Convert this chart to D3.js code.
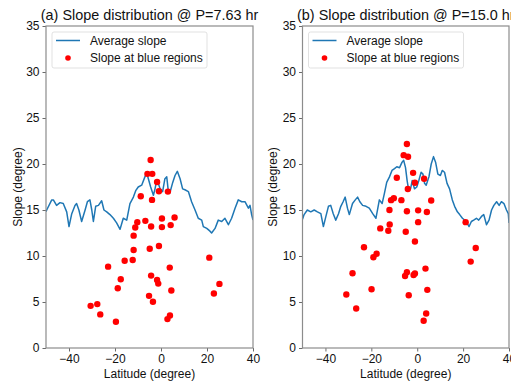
<!DOCTYPE html>
<html><head><meta charset="utf-8">
<script src="https://cdn.jsdelivr.net/npm/d3@7"></script>
<style>
html,body{margin:0;padding:0;background:#fff;}
svg{display:block;font-family:"Liberation Sans",Arial,sans-serif;}
</style></head>
<body>
<svg id="chart" width="511" height="381"></svg>
<script>
// ---- data ----
const titles = ["(a) Slope distribution @ P=7.63 hr", "(b) Slope distribution @ P=15.0 hr"];
const xTicks = [-40, -20, 0, 20, 40];
const yTicks = [0, 5, 10, 15, 20, 25, 30, 35];
const legendLabels = ["Average slope", "Slope at blue regions"];

const avgLatA = [-50,-49.7,-47.5,-46.8,-45.4,-43.9,-42.5,-41.0,-40.0,-38.8,-37.4,-36.7,-35.7,-34.5,-33.0,-32.0,-30.9,-30.1,-29.4,-28.4,-27.2,-25.8,-24.8,-23.6,-22.2,-20.7,-19.3,-17.8,-16.4,-14.9,-13.5,-12.0,-11.0,-9.9,-8.4,-7.0,-6.2,-5.5,-4.5,-3.3,-2.6,-1.9,-1.2,-0.4,0.7,1.7,2.5,3.2,3.9,5.1,6.1,7.1,8.3,9.4,10.4,11.9,13.3,14.8,16.2,17.7,18.4,19.9,21.3,22.0,23.5,24.9,26.4,27.8,29.3,30.7,32.2,33.6,35.1,36.5,38.0,38.7,39.4,40.0];
const avgSlopeA = [14.8,15.0,16.1,16.1,15.5,15.8,15.7,14.8,13.2,14.6,15.5,15.7,15.0,13.75,15.0,15.9,16.1,15.0,13.75,15.4,15.5,16.0,15.0,14.8,14.5,14.1,13.6,12.9,14.1,13.9,15.7,16.4,17.1,17.5,17.7,18.6,19.0,18.4,17.5,16.6,17.3,18.2,17.9,17.3,17.0,18.4,18.6,17.0,16.9,18.0,18.75,19.2,18.4,17.3,17.2,17.0,15.9,15.0,14.1,13.9,13.2,13.0,12.7,12.5,13.0,13.9,13.75,14.1,13.4,14.1,15.2,16.1,15.9,15.9,15.2,15.5,14.5,13.9];

const avgLatB = [-50,-49.3,-47.9,-46.4,-44.9,-43.5,-42.0,-40.9,-39.8,-38.7,-37.7,-36.6,-35.5,-34.3,-33.3,-32.3,-31.4,-30.4,-29.6,-28.2,-27.0,-26.0,-25.0,-23.8,-22.3,-20.9,-19.4,-18.0,-16.5,-15.3,-14.3,-13.3,-12.1,-11.0,-9.9,-8.9,-7.7,-6.6,-5.9,-5.1,-4.4,-3.7,-2.9,-2.2,-1.2,-0.2,0.7,1.7,2.5,3.2,3.9,5.1,6.1,7.1,8.0,9.0,10.1,10.9,11.9,13.0,14.1,15.3,16.3,17.5,18.5,19.7,20.7,21.7,22.6,23.6,24.6,25.8,26.8,28.0,29.0,30.2,31.3,32.4,33.4,34.6,35.7,36.7,37.8,38.9,39.7,40.0];
const avgSlopeB = [14.0,14.5,15.0,14.8,15.0,14.8,14.6,13.2,14.3,15.4,15.5,14.6,13.9,14.6,15.4,15.9,16.4,15.2,14.5,15.7,16.1,16.4,15.9,15.5,15.4,15.2,14.6,14.1,16.1,15.7,16.8,18.0,18.6,19.3,19.5,19.7,19.6,20.2,20.4,19.6,18.2,17.1,17.3,18.2,17.3,17.5,18.2,19.1,18.9,17.9,17.7,18.6,20.0,20.8,20.2,18.9,18.75,19.3,19.1,17.9,17.3,16.1,15.4,14.8,14.5,14.1,13.9,13.6,13.2,13.75,13.9,14.1,13.9,14.3,14.5,13.4,13.9,15.0,15.5,15.9,15.5,15.9,15.7,15.0,14.6,13.6];

const dotLatA = [-4.5,-5.9,-3.8,-1.7,-0.9,3.0,-8.8,-3.9,-10.3,-6.8,-11.2,-4.3,0.4,0.4,5.9,4.2,-11.9,-0.9,-4.9,-11.9,-15.8,-12.3,-23.0,3.8,-4.3,-1.7,-1.2,-17.5,-18.8,4.5,-5.2,-3.5,-27.7,-30.6,-26.4,-19.6,3.9,2.8,21.0,25.4,23.0];
const dotSlopeA = [20.43,18.93,18.93,18.04,17.04,17.0,16.5,16.1,13.68,13.82,13.1,13.2,14.07,13.14,14.18,13.36,12.21,11.08,10.79,10.65,9.49,9.57,8.84,8.74,7.87,7.4,7.0,7.47,6.5,6.25,5.67,5.02,4.77,4.58,3.65,2.85,3.54,3.14,9.82,6.97,5.92];

const dotLatB = [-4.5,-5.9,-4.0,-1.8,-8.9,-1.0,3.0,-4.1,-11.4,-10.2,-6.9,6.1,-12.1,-4.5,0.4,4.2,0.4,-12.0,-16.1,-12.6,-5.0,-1.0,21.1,-23.2,25.5,-17.7,-19.1,23.3,-28.2,-4.5,-5.3,-1.6,-1.0,3.6,-19.9,4.4,-30.9,-3.7,-26.6,3.9,2.8];
const dotSlopeB = [22.18,20.96,20.79,19.04,18.5,17.96,18.39,17.29,16.07,16.29,16.07,16.04,15.0,14.86,14.96,14.79,13.68,13.43,13.0,12.75,12.64,11.58,13.68,10.95,10.87,10.25,9.86,9.39,8.12,8.23,7.83,7.94,8.09,8.63,6.39,6.32,5.81,5.74,4.3,3.75,2.96];

// ---- drawing ----
const svg = d3.select("#chart");
const panels = [
  {x0: 46, x1: 253, title: titles[0], lat: avgLatA, slope: avgSlopeA, dLat: dotLatA, dSlope: dotSlopeA, ylabX: 18},
  {x0: 302.5, x1: 509, title: titles[1], lat: avgLatB, slope: avgSlopeB, dLat: dotLatB, dSlope: dotSlopeB, ylabX: 273}
];
const plotTop = 26, plotBottom = 348;
const blue = "#1f77b4", red = "#ff0000", spine = "#8c8c8c";

panels.forEach((p, i) => {
  const x = d3.scaleLinear().domain([-50, 40]).range([p.x0, p.x1]);
  const y = d3.scaleLinear().domain([0, 35]).range([plotBottom, plotTop]);
  const g = svg.append("g");
  const clipId = "clip" + i;
  svg.append("clipPath").attr("id", clipId).append("rect")
    .attr("x", p.x0).attr("y", plotTop).attr("width", p.x1 - p.x0).attr("height", plotBottom - plotTop);

  // line
  const line = d3.line().x((d, k) => x(p.lat[k])).y((d, k) => y(p.slope[k]));
  g.append("path").datum(p.slope).attr("d", line)
    .attr("fill", "none").attr("stroke", blue).attr("stroke-width", 1.5)
    .attr("stroke-linejoin", "round").attr("clip-path", `url(#${clipId})`);

  // dots
  g.selectAll("circle.dot").data(p.dSlope).enter().append("circle")
    .attr("class", "dot")
    .attr("cx", (d, k) => x(p.dLat[k])).attr("cy", d => y(d)).attr("r", 3.2)
    .attr("fill", red);

  // axes
  const xa = g.append("g").attr("transform", `translate(0,${plotBottom})`)
    .call(d3.axisBottom(x).tickValues(xTicks).tickSize(3.5).tickPadding(3)
      .tickFormat(d => d < 0 ? "\u2212" + Math.abs(d) : d));
  const ya = g.append("g").attr("transform", `translate(${p.x0},0)`)
    .call(d3.axisLeft(y).tickValues(yTicks).tickSize(3.5).tickPadding(3));
  [xa, ya].forEach(a => {
    a.select(".domain").remove();
    a.selectAll(".tick line").attr("stroke", "#444").attr("stroke-width", 0.8);
    a.selectAll(".tick text").attr("fill", "#111").style("font-size", "12px")
      .style("font-family", '"Liberation Sans",Arial,sans-serif');
  });

  // frame
  g.append("rect").attr("x", p.x0).attr("y", plotTop)
    .attr("width", p.x1 - p.x0).attr("height", plotBottom - plotTop)
    .attr("fill", "none").attr("stroke", spine).attr("stroke-width", 1.2);

  // title
  g.append("text").attr("x", (p.x0 + p.x1) / 2).attr("y", 20)
    .attr("text-anchor", "middle").style("font-size", "14.4px").attr("fill", "#111")
    .text(p.title);

  // axis labels
  g.append("text").attr("x", (p.x0 + p.x1) / 2).attr("y", 378)
    .attr("text-anchor", "middle").style("font-size", "12px").attr("fill", "#111")
    .text("Latitude (degree)");
  g.append("text").attr("transform", `translate(${p.ylabX},${(plotTop + plotBottom) / 2}) rotate(-90)`)
    .attr("text-anchor", "middle").attr("dy", "0.35em").style("font-size", "12px").attr("fill", "#111")
    .text("Slope (degree)");

  // legend
  const lx = p.x0 + 6, ly = 32;
  const lg = g.append("g");
  lg.append("rect").attr("x", lx).attr("y", ly).attr("width", 155).attr("height", 36)
    .attr("rx", 2).attr("fill", "#fff").attr("fill-opacity", 0.8)
    .attr("stroke", "#d9d9d9").attr("stroke-width", 0.8);
  lg.append("line").attr("x1", lx + 4).attr("x2", lx + 28).attr("y1", ly + 8.5).attr("y2", ly + 8.5)
    .attr("stroke", blue).attr("stroke-width", 1.5);
  lg.append("circle").attr("cx", lx + 16).attr("cy", ly + 26).attr("r", 2.8).attr("fill", red);
  lg.append("text").attr("x", lx + 38).attr("y", ly + 8.5).attr("dy", "0.35em")
    .style("font-size", "12px").attr("fill", "#111").text(legendLabels[0]);
  lg.append("text").attr("x", lx + 38).attr("y", ly + 26).attr("dy", "0.35em")
    .style("font-size", "12px").attr("fill", "#111").text(legendLabels[1]);
});
</script>
</body></html>
